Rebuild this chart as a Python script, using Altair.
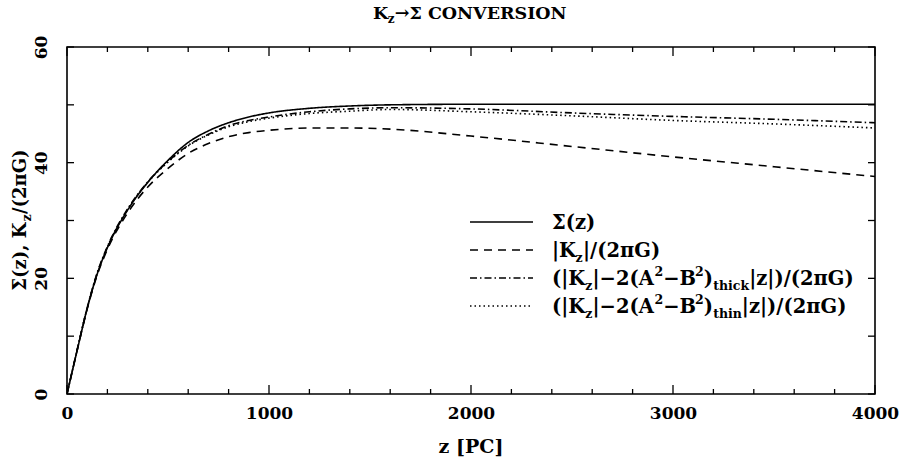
import altair as alt
import pandas as pd

# ---- data ----
z = [0, 50, 100, 150, 200, 300, 400, 500, 600, 700, 800, 900, 1000, 1200, 1400, 1600, 2000, 2500, 3000, 3500, 4000]
sigma = [0, 7.5, 14.8, 20.8, 25.3, 31.8, 36.6, 40.4, 43.5, 45.5, 46.9, 47.9, 48.6, 49.4, 49.8, 50.0, 50.1, 50.1, 50.1, 50.1, 50.1]
kz = [0, 7.5, 14.7, 20.6, 25.0, 31.3, 35.8, 39.0, 41.6, 43.3, 44.5, 45.2, 45.6, 46.0, 46.0, 45.8, 44.6, 42.8, 41.0, 39.3, 37.6]
k_thick = [0, 7.6, 14.9, 21.0, 25.5, 32.0, 36.7, 40.2, 43.0, 44.9, 46.4, 47.3, 47.9, 48.8, 49.3, 49.5, 49.3, 48.6, 48.0, 47.5, 46.9]
k_thin = [0, 7.6, 14.9, 20.9, 25.4, 31.9, 36.6, 40.1, 42.9, 44.8, 46.2, 47.1, 47.7, 48.5, 48.9, 49.2, 48.8, 48.1, 47.3, 46.7, 46.0]

x_major = [0, 1000, 2000, 3000, 4000]
x_minor = [200, 400, 600, 800, 1200, 1400, 1600, 1800, 2200, 2400, 2600, 2800, 3200, 3400, 3600, 3800]
y_major = [0, 20, 40, 60]
y_minor = [10, 30, 50]

W, H = 808, 347
FONT = "DejaVu Serif"

xs = alt.Scale(domain=[0, 4000], nice=False, zero=False)
ys = alt.Scale(domain=[0, 60], nice=False, zero=False)

XA = alt.Axis(values=x_major, format="d", ticks=False, domain=False, grid=False, title=None,
              labelFont=FONT, labelFontSize=17, labelFontWeight="bold", labelColor="black",
              labelPadding=11, labelFlush=False)
YA = alt.Axis(values=y_major, format="d", ticks=False, domain=False, grid=False, title=None,
              labelFont=FONT, labelFontSize=17, labelFontWeight="bold", labelColor="black",
              labelAngle=270, labelAlign="center", labelBaseline="bottom", labelPadding=17,
              labelFlush=False)


def line(vals, dash):
    d = pd.DataFrame({"z": z, "v": vals})
    return (alt.Chart(d)
            .mark_line(color="black", strokeWidth=1.6, strokeDash=dash, interpolate="monotone", clip=True)
            .encode(x=alt.X("z:Q", scale=xs, axis=XA), y=alt.Y("v:Q", scale=ys, axis=YA)))


lines = [line(sigma, [1, 0]), line(kz, [8, 6]), line(k_thick, [7, 3, 1.5, 3]), line(k_thin, [1.5, 3])]


def xticks(vals, length):
    d = pd.DataFrame({"t": vals})
    b = alt.Chart(d).mark_rule(color="black", strokeWidth=1.3)
    bot = b.encode(x=alt.X("t:Q", scale=xs, axis=XA), y=alt.value(H), y2=alt.value(H - length))
    top = b.encode(x=alt.X("t:Q", scale=xs, axis=XA), y=alt.value(0), y2=alt.value(length))
    return [bot, top]


def yticks(vals, length):
    d = pd.DataFrame({"t": vals})
    b = alt.Chart(d).mark_rule(color="black", strokeWidth=1.3)
    left = b.encode(y=alt.Y("t:Q", scale=ys, axis=YA), x=alt.value(0), x2=alt.value(length))
    right = b.encode(y=alt.Y("t:Q", scale=ys, axis=YA), x=alt.value(W), x2=alt.value(W - length))
    return [left, right]


ticks = xticks(x_major, 9) + xticks(x_minor, 5) + yticks(y_major, 7) + yticks(y_minor, 7)

one = pd.DataFrame({"a": [0]})

# approximate advance widths (em) of DejaVu Serif Bold, for laying out sub/superscripts
EM = {"(": 0.49, ")": 0.49, "|": 0.37, "K": 0.84, "z": 0.59, "\u2212": 0.84, "2": 0.70, "A": 0.78,
      "B": 0.78, "/": 0.37, "\u03c0": 0.67, "G": 0.83, "t": 0.45, "h": 0.73, "i": 0.38, "c": 0.62,
      "k": 0.70, "n": 0.73, "\u03a3": 0.74, " ": 0.35, ",": 0.35, "\u2192": 0.84}


def width(s, size):
    return sum(EM.get(ch, 0.7) for ch in s) * size


def txt(s, x, y, size, align="left", baseline="alphabetic", angle=0):
    kw = dict(text=s, font=FONT, fontSize=size, fontWeight="bold", color="black",
              align=align, baseline=baseline, angle=angle)
    return alt.Chart(one).mark_text(**kw).encode(x=alt.value(x), y=alt.value(y))


def rich(pieces, x, y, size, small, vertical=False):
    """pieces: list of (text, kind) with kind in 'n','sub','sup'."""
    out = []
    pos = 0.0
    for s, kind in pieces:
        fs = size if kind == "n" else small
        shift = {"n": 0, "sub": 0.28 * size, "sup": -0.42 * size}[kind]
        if vertical:
            out.append(txt(s, x + shift, y - pos, fs, angle=270))
        else:
            out.append(txt(s, x + pos, y + shift, fs))
        pos += width(s, fs)
    return out


texts = []
# title  K_z -> Sigma CONVERSION
texts += rich([("K", "n"), ("z", "sub"), ("\u2192\u03a3 CONVERSION", "n")], 306, -28.5, 17.5, 12)
# x title
texts += [txt("z [PC]", W / 2, 400, 19, align="center", baseline="middle")]
# y title (rotated, reading upward)
ytitle = [("\u03a3(z), K", "n"), ("z", "sub"), ("/(2\u03c0G)", "n")]
ylen = width("\u03a3(z), K", 18) + width("z", 12.5) + width("/(2\u03c0G)", 18)
texts += rich(ytitle, -41, H / 2 + ylen / 2, 18, 12.5, vertical=True)

# legend
rows = [175, 203, 231, 259]
lx0, lx1, tx0 = 403, 466, 485
dashes = [[1, 0], [8, 6], [7, 3, 1.5, 3], [1.5, 3]]
leg = []
for r, d in zip(rows, dashes):
    leg.append(alt.Chart(one).mark_rule(color="black", strokeWidth=1.6, strokeDash=d)
               .encode(x=alt.value(lx0), x2=alt.value(lx1), y=alt.value(r)))

LF, LS = 19.5, 12.5
off = 6.5  # baseline offset from row centre
texts += rich([("\u03a3(z)", "n")], tx0, rows[0] + off, LF, LS)
texts += rich([("|K", "n"), ("z", "sub"), ("|/(2\u03c0G)", "n")], tx0, rows[1] + off, LF, LS)
for r, sub in [(rows[2], "thick"), (rows[3], "thin")]:
    texts += rich([("(|K", "n"), ("z", "sub"), ("|\u22122(A", "n"), ("2", "sup"), ("\u2212B", "n"),
                   ("2", "sup"), (")", "n"), (sub, "sub"), ("|z|)/(2\u03c0G)", "n")],
                  tx0, r + off, LF, LS)

chart = alt.layer(*lines, *ticks, *leg, *texts).properties(
    width=W, height=H,
    autosize=alt.AutoSizeParams(type="none"),
    padding={"left": 67, "top": 47, "right": 29, "bottom": 72},
    background="white",
).configure_view(stroke="black", strokeWidth=1.6)

chart.save("out.html", embed_options={"renderer": "svg", "actions": False})
